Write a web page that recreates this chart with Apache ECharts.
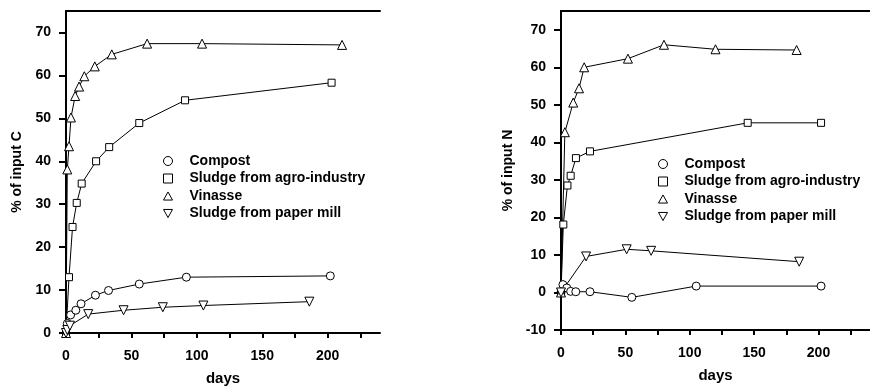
<!DOCTYPE html>
<html><head><meta charset="utf-8">
<script src="https://cdn.jsdelivr.net/npm/echarts@6.0.0/dist/echarts.min.js"></script>
<style>html,body{margin:0;padding:0;background:#fff}#c{width:870px;height:389px}</style>
</head><body><div id="c"></div>
<script>
const seriesNames = ['Compost', 'Sludge from agro-industry', 'Vinasse', 'Sludge from paper mill'];
const xTickValues = [0, 25, 50, 75, 100, 125, 150, 175, 200, 225];
const xLabelValues = [0, 50, 100, 150, 200];
const yLabelsC = [0, 10, 20, 30, 40, 50, 60, 70];
const yLabelsN = [-10, 0, 10, 20, 30, 40, 50, 60, 70];

// Carbon panel
const compostDaysC = [0, 1, 3.5, 7.5, 11.5, 22.5, 32.5, 56, 92, 202];
const compostValsC = [0, 2.2, 4.2, 5.3, 6.8, 8.8, 9.9, 11.4, 13.0, 13.3];
const agroDaysC = [0, 2.3, 5, 8.2, 12, 23, 33, 56, 91, 203];
const agroValsC = [0, 13, 24.7, 30.3, 34.8, 40, 43.3, 48.9, 54.2, 58.3];
const vinasseDaysC = [0, 1, 2.3, 3.8, 7, 10, 14, 22, 35, 62, 104, 211];
const vinasseValsC = [0, 38.1, 43.5, 50.2, 55.2, 57.4, 59.8, 62.1, 64.9, 67.4, 67.4, 67.1];
const paperDaysC = [0, 1, 3, 17, 44, 74, 105, 186];
const paperValsC = [0, 0.7, 1.7, 4.4, 5.3, 6.0, 6.4, 7.3];

// Nitrogen panel
const compostDaysN = [0, 1.5, 4.5, 7.5, 11.5, 22.5, 55, 105, 202];
const compostValsN = [0, 2.1, 1.2, 0.3, 0.2, 0.2, -1.3, 1.7, 1.7];
const agroDaysN = [0, 1.8, 5, 7.5, 11.6, 22.5, 145, 202];
const agroValsN = [0, 18.1, 28.5, 31.1, 35.8, 37.6, 45.2, 45.2];
const vinasseDaysN = [0, 3, 9.5, 14, 18, 52, 80, 120, 183];
const vinasseValsN = [0, 42.7, 50.6, 54.4, 60, 62.3, 66, 64.8, 64.6];
const paperDaysN = [0, 19.5, 51, 70, 185];
const paperValsN = [0, 9.6, 11.5, 11.1, 8.2];

const zip = (a, b) => a.map((d, i) => [d, b[i]]);
const FONT = 'Liberation Sans, Arial, sans-serif';
const txt = {fontFamily: FONT, fontWeight: 'bold', fontSize: 14, color: '#000'};
const symbols = {
  'Compost': {symbol: 'circle', size: 8, rot: 0},
  'Sludge from agro-industry': {symbol: 'rect', size: 7, rot: 0},
  'Vinasse': {symbol: 'triangle', size: 9, rot: 0},
  'Sludge from paper mill': {symbol: 'triangle', size: 9, rot: 180}
};
const legendIcons = {
  'Compost': 'circle',
  'Sludge from agro-industry': 'rect',
  'Vinasse': 'path://M5,0 L10,9 L0,9 Z',
  'Sludge from paper mill': 'path://M0,0 L10,0 L5,9 Z'
};

function mkSeries(name, data, gi) {
  const s = symbols[name];
  return {
    type: 'line', name, data, xAxisIndex: gi * 2, yAxisIndex: gi,
    symbol: s.symbol, symbolSize: s.size, symbolRotate: s.rot, showAllSymbol: true,
    lineStyle: {color: '#000', width: 1},
    itemStyle: {color: '#fff', borderColor: '#000', borderWidth: 1},
    animation: false
  };
}

function xBottom(gi, gap, margin) {
  return {
    type: 'value', gridIndex: gi, position: 'bottom', min: 0, max: 240,
    name: 'days', nameLocation: 'middle', nameGap: gap, nameTextStyle: Object.assign({}, txt, {fontSize: 15}),
    axisLine: {show: true, onZero: false, lineStyle: {color: '#000', width: 2}},
    axisTick: {show: true, inside: false, length: 5, customValues: xTickValues, lineStyle: {color: '#000', width: 2}},
    axisLabel: Object.assign({}, txt, {margin, customValues: xLabelValues}),
    splitLine: {show: false}
  };
}
function xTop(gi) {
  return {
    type: 'value', gridIndex: gi, position: 'top', min: 0, max: 240,
    axisLine: {show: true, onZero: false, lineStyle: {color: '#000', width: 2}},
    axisTick: {show: false}, axisLabel: {show: false}, splitLine: {show: false}
  };
}
function yAxis(gi, min, labels, title, gap) {
  return {
    type: 'value', gridIndex: gi, min, max: 75,
    name: title, nameLocation: 'middle', nameRotate: 90, nameGap: gap, nameTextStyle: txt,
    axisLine: {show: true, onZero: false, lineStyle: {color: '#000', width: 2}},
    axisTick: {show: true, length: 7, customValues: labels, lineStyle: {color: '#000', width: 2}},
    axisLabel: Object.assign({}, txt, {margin: 15, customValues: labels}),
    splitLine: {show: false}
  };
}
function legend(left, top) {
  return {
    orient: 'vertical', left, top, itemWidth: 9, itemHeight: 9, itemGap: 3.5,
    data: seriesNames.map(n => ({name: n, icon: legendIcons[n]})),
    itemStyle: {color: '#fff', borderColor: '#000', borderWidth: 1},
    textStyle: Object.assign({}, txt, {padding: [0, 0, 0, 12]}),
    selectedMode: false
  };
}

const chart = echarts.init(document.getElementById('c'), null, {renderer: 'canvas'});
chart.setOption({
  animation: false,
  backgroundColor: '#fff',
  grid: [
    {left: 66, right: 490, top: 11, bottom: 56, containLabel: false, outerBoundsMode: 'none'},
    {left: 561, right: 0, top: 11, bottom: 59, containLabel: false, outerBoundsMode: 'none'}
  ],
  xAxis: [xBottom(0, 38, 16), xTop(0), xBottom(1, 38, 16), xTop(1)],
  yAxis: [yAxis(0, 0, yLabelsC, '% of input C', 42), yAxis(1, -10, yLabelsN, '% of input N', 46)],
  legend: [legend(158, 149), legend(653, 152)],
  series: [
    mkSeries('Compost', zip(compostDaysC, compostValsC), 0),
    mkSeries('Sludge from agro-industry', zip(agroDaysC, agroValsC), 0),
    mkSeries('Vinasse', zip(vinasseDaysC, vinasseValsC), 0),
    mkSeries('Sludge from paper mill', zip(paperDaysC, paperValsC), 0),
    mkSeries('Compost', zip(compostDaysN, compostValsN), 1),
    mkSeries('Sludge from agro-industry', zip(agroDaysN, agroValsN), 1),
    mkSeries('Vinasse', zip(vinasseDaysN, vinasseValsN), 1),
    mkSeries('Sludge from paper mill', zip(paperDaysN, paperValsN), 1)
  ]
});
</script></body></html>
